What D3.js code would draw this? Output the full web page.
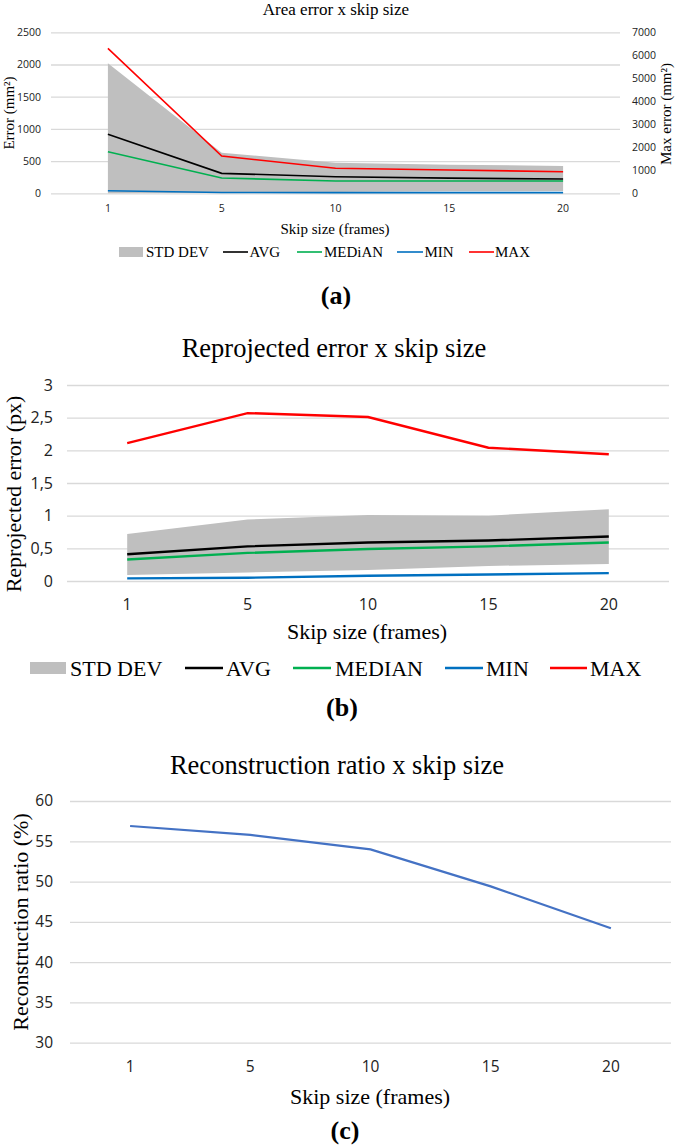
<!DOCTYPE html>
<html>
<head>
<meta charset="utf-8">
<script src="https://cdn.jsdelivr.net/npm/d3@7"></script>
<style>
  html, body { margin: 0; padding: 0; background: #fff; }
  svg { display: block; }
  .serif { font-family: "Liberation Serif", "Times New Roman", serif; fill: #000; }
  .tick text { font-family: "Open Sans", "Liberation Sans", sans-serif; fill: #222; }
</style>
</head>
<body>
<svg id="chart" width="685" height="1145"></svg>
<script>
// ---------- DATA ----------
const skipSizes = ["1", "5", "10", "15", "20"];
const seriesNames = ["STD DEV", "AVG", "MEDIAN", "MIN", "MAX"];
const legendNamesA = ["STD DEV", "AVG", "MEDiAN", "MIN", "MAX"];

// (a) Area error (mm²); MAX on right axis
const areaAvg = [916, 310, 258, 235, 222];
const areaMedian = [646, 238, 191, 190, 191];
const areaMin = [40, 12, 10, 10, 10];
const areaMax = [6300, 1620, 1090, 1015, 940];
const areaStdUpper = [2019, 631, 475, 445, 424];
const areaStdLower = [0, 8, 20, 30, 36];
const areaLeftTicks = [0, 500, 1000, 1500, 2000, 2500];
const areaRightTicks = [0, 1000, 2000, 3000, 4000, 5000, 6000, 7000];

// (b) Reprojected error (px)
const repAvg = [0.41, 0.53, 0.59, 0.62, 0.68];
const repMedian = [0.33, 0.43, 0.49, 0.53, 0.59];
const repMin = [0.04, 0.05, 0.08, 0.10, 0.12];
const repMax = [2.11, 2.57, 2.51, 2.04, 1.94];
const repStdUpper = [0.72, 0.94, 1.01, 1.00, 1.10];
const repStdLower = [0.09, 0.13, 0.17, 0.23, 0.26];
const repTicks = [0, 0.5, 1, 1.5, 2, 2.5, 3];
const repTickLabels = ["0", "0,5", "1", "1,5", "2", "2,5", "3"];

// (c) Reconstruction ratio (%)
const reconRatio = [56.9, 55.8, 54.0, 49.4, 44.2];
const reconTicks = [30, 35, 40, 45, 50, 55, 60];

// ---------- STYLE ----------
const colors = { std: "#BFBFBF", avg: "#000000", median: "#00B050", min: "#0070C0", max: "#FF0000", recon: "#4472C4", grid: "#D9D9D9" };

const svg = d3.select("#chart");

function gridAndYAxis(g, y, x0, x1, ticks, labels, fontSize, pad) {
  const ax = d3.axisLeft(y).tickValues(ticks).tickSize(-(x1 - x0)).tickPadding(pad)
    .tickFormat((d, i) => labels ? labels[i] : String(d));
  const a = g.append("g").attr("transform", `translate(${x0},0)`).call(ax);
  a.select(".domain").remove();
  a.selectAll(".tick line").attr("stroke", colors.grid).attr("stroke-width", 1.3);
  a.selectAll(".tick text").attr("font-size", fontSize);
  return a;
}
function xAxis(g, x, yPos, fontSize) {
  const a = g.append("g").attr("transform", `translate(0,${yPos})`)
    .call(d3.axisBottom(x).tickSize(0).tickPadding(0));
  a.select(".domain").remove();
  a.selectAll(".tick text").attr("font-size", fontSize).attr("y", 0).attr("dy", "0.36em");
  return a;
}
function text(g, x, y, str, size, opts = {}) {
  const t = g.append("text").attr("class", "serif").attr("x", x).attr("y", y)
    .attr("font-size", size).attr("text-anchor", opts.anchor || "middle")
    .attr("dominant-baseline", "central").text(str);
  if (opts.bold) t.attr("font-weight", "bold");
  if (opts.rotate) t.attr("transform", `rotate(-90,${x},${y})`);
  return t;
}
function legend(g, yPos, items, size, lineW, rectH) {
  items.forEach(it => {
    if (it.type === "rect") {
      g.append("rect").attr("x", it.x0).attr("y", yPos - rectH / 2).attr("width", it.x1 - it.x0).attr("height", rectH).attr("fill", it.color);
    } else {
      g.append("line").attr("x1", it.x0).attr("x2", it.x1).attr("y1", yPos).attr("y2", yPos).attr("stroke", it.color).attr("stroke-width", lineW);
    }
    text(g, it.tx, yPos, it.label, size, { anchor: "start" });
  });
}

// ---------- (a) ----------
{
  const g = svg.append("g");
  const x = d3.scaleBand().domain(skipSizes).range([51, 620]).padding(0);
  const cx = d => x(d) + x.bandwidth() / 2;
  const y = d3.scaleLinear().domain([0, 2500]).range([193.3, 32.3]);
  const yR = d3.scaleLinear().domain([0, 7000]).range([193.3, 32.3]);

  gridAndYAxis(g, y, 51, 620, areaLeftTicks, null, 10.5, 10);
  const r = g.append("g").attr("transform", "translate(620,0)")
    .call(d3.axisRight(yR).tickValues(areaRightTicks).tickSize(0).tickPadding(12).tickFormat(d => String(d)));
  r.select(".domain").remove();
  r.selectAll(".tick text").attr("font-size", 10.5);

  const area = d3.area().x((d, i) => cx(skipSizes[i])).y0(d => y(d[0])).y1(d => y(d[1]));
  g.append("path").datum(areaStdLower.map((v, i) => [v, areaStdUpper[i]])).attr("d", area).attr("fill", colors.std);

  const line = sc => d3.line().x((d, i) => cx(skipSizes[i])).y(d => sc(d));
  [[areaAvg, colors.avg, y], [areaMedian, colors.median, y], [areaMin, colors.min, y], [areaMax, colors.max, yR]]
    .forEach(([data, c, sc]) => g.append("path").datum(data).attr("d", line(sc)).attr("fill", "none").attr("stroke", c).attr("stroke-width", 1.6));

  xAxis(g, x, 208, 10.5);
  text(g, 336, 9, "Area error x skip size", 17);
  text(g, 335, 228.5, "Skip size (frames)", 15);
  text(g, 9, 113, "Error (mm²)", 15, { rotate: true });
  text(g, 666, 114, "Max error (mm²)", 15, { rotate: true });
  legend(g, 252, [
    { type: "rect", x0: 119, x1: 143, tx: 146, label: legendNamesA[0], color: colors.std },
    { type: "line", x0: 223, x1: 248, tx: 249.5, label: legendNamesA[1], color: colors.avg },
    { type: "line", x0: 297, x1: 322, tx: 324, label: legendNamesA[2], color: colors.median },
    { type: "line", x0: 397, x1: 423, tx: 424.5, label: legendNamesA[3], color: colors.min },
    { type: "line", x0: 469, x1: 494, tx: 495, label: legendNamesA[4], color: colors.max }
  ], 15, 1.6, 10);
  text(g, 336, 295, "(a)", 26, { bold: true });
}

// ---------- (b) ----------
{
  const g = svg.append("g");
  const x = d3.scaleBand().domain(skipSizes).range([67, 669]).padding(0);
  const cx = d => x(d) + x.bandwidth() / 2;
  const y = d3.scaleLinear().domain([0, 3]).range([581, 385]);

  gridAndYAxis(g, y, 67, 669, repTicks, repTickLabels, 16, 14);

  const area = d3.area().x((d, i) => cx(skipSizes[i])).y0(d => y(d[0])).y1(d => y(d[1]));
  g.append("path").datum(repStdLower.map((v, i) => [v, repStdUpper[i]])).attr("d", area).attr("fill", colors.std);
  const line = d3.line().x((d, i) => cx(skipSizes[i])).y(d => y(d));
  [[repAvg, colors.avg], [repMedian, colors.median], [repMin, colors.min], [repMax, colors.max]]
    .forEach(([data, c]) => g.append("path").datum(data).attr("d", line).attr("fill", "none").attr("stroke", c).attr("stroke-width", 2.4));

  xAxis(g, x, 604, 16);
  text(g, 334, 348, "Reprojected error x skip size", 26.5);
  text(g, 367, 631, "Skip size (frames)", 22);
  text(g, 13, 494, "Reprojected error (px)", 22, { rotate: true });
  legend(g, 668, [
    { type: "rect", x0: 30, x1: 66, tx: 70, label: seriesNames[0], color: colors.std },
    { type: "line", x0: 185, x1: 223, tx: 226, label: seriesNames[1], color: colors.avg },
    { type: "line", x0: 293, x1: 331, tx: 335, label: seriesNames[2], color: colors.median },
    { type: "line", x0: 445, x1: 483, tx: 486, label: seriesNames[3], color: colors.min },
    { type: "line", x0: 550, x1: 587, tx: 590, label: seriesNames[4], color: colors.max }
  ], 22, 2.4, 12);
  text(g, 342, 707, "(b)", 26, { bold: true });
}

// ---------- (c) ----------
{
  const g = svg.append("g");
  const x = d3.scaleBand().domain(skipSizes).range([70, 671]).padding(0);
  const cx = d => x(d) + x.bandwidth() / 2;
  const y = d3.scaleLinear().domain([30, 60]).range([1042.7, 801]);

  gridAndYAxis(g, y, 70, 671, reconTicks, null, 15.5, 17);
  const line = d3.line().x((d, i) => cx(skipSizes[i])).y(d => y(d));
  g.append("path").datum(reconRatio).attr("d", line).attr("fill", "none").attr("stroke", colors.recon).attr("stroke-width", 2.2);

  xAxis(g, x, 1066, 15.5);
  text(g, 337, 765, "Reconstruction ratio x skip size", 26.5);
  text(g, 370, 1096, "Skip size (frames)", 22);
  text(g, 20, 922, "Reconstruction ratio (%)", 22, { rotate: true });
  text(g, 345, 1130, "(c)", 26, { bold: true });
}
</script>
</body>
</html>
